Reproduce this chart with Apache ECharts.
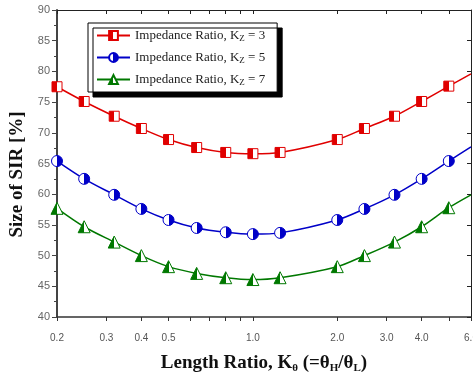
<!DOCTYPE html>
<html>
<head>
<meta charset="utf-8">
<script src="https://cdn.jsdelivr.net/npm/echarts@6/dist/echarts.min.js"></script>
<style>
  html, body { margin: 0; padding: 0; background: #fff; }
  #chart { width: 473px; height: 376px; }
</style>
</head>
<body>
<div id="chart"></div>
<script>
// length ratio K_theta (log axis)
const kTheta = [0.2, 0.25, 0.32, 0.4, 0.5, 0.63, 0.8, 1.0, 1.25, 2.0, 2.5, 3.2, 4.0, 5.0, 6.0];
const sirKz3 = [77.5, 75.1, 72.7, 70.7, 68.9, 67.6, 66.8, 66.6, 66.8, 68.9, 70.7, 72.7, 75.1, 77.6, 79.6];
const sirKz5 = [65.4, 62.5, 59.9, 57.6, 55.8, 54.5, 53.8, 53.5, 53.7, 55.8, 57.6, 59.9, 62.5, 65.4, 67.7];
const sirKz7 = [57.7, 54.7, 52.2, 50.0, 48.2, 47.1, 46.4, 46.1, 46.4, 48.2, 50.0, 52.2, 54.7, 57.8, 59.9];
const kzValues = [3, 5, 7];

const xTickValues = [0.2, 0.3, 0.4, 0.5, 0.6, 0.7, 0.8, 0.9, 1.0, 2.0, 3.0, 4.0, 5.0, 6.0];
const xLabelValues = [0.2, 0.3, 0.4, 0.5, 1.0, 2.0, 3.0, 4.0, 6.0];

const chart = echarts.init(document.getElementById("chart"), null, { renderer: "canvas" });

function halfFill(color, leftFilled) {
  const stops = leftFilled
    ? [{ offset: 0, color }, { offset: 0.5, color }, { offset: 0.5, color: "#fff" }, { offset: 1, color: "#fff" }]
    : [{ offset: 0, color: "#fff" }, { offset: 0.5, color: "#fff" }, { offset: 0.5, color }, { offset: 1, color }];
  return new echarts.graphic.LinearGradient(0, 0, 1, 0, stops);
}

function toData(ys) {
  return kTheta.map((k, i) => {
    const item = { value: [k, ys[i]] };
    if (i === kTheta.length - 1) item.symbol = "none";
    return item;
  });
}

const styles = [
  { color: "#e00000", symbol: "rect", size: 10, left: true },
  { color: "#0000c8", symbol: "circle", size: 11, left: false },
  { color: "#007800", symbol: "triangle", size: 12, left: true },
];
const values = [sirKz3, sirKz5, sirKz7];

const series = kzValues.map((kz, i) => ({
  name: "Kz" + kz,
  type: "line",
  smooth: 0.3,
  data: toData(values[i]),
  symbol: styles[i].symbol,
  symbolSize: styles[i].size,
  lineStyle: { color: styles[i].color, width: 1.5 },
  itemStyle: { color: halfFill(styles[i].color, styles[i].left), borderColor: styles[i].color, borderWidth: 1 },
  emphasis: { disabled: true },
  z: 3,
}));

const serif = "'Liberation Serif', 'Times New Roman', serif";
const sans = "'Liberation Sans', Arial, sans-serif";

const option = {
  animation: false,
  backgroundColor: "#fff",
  grid: { left: 57, right: 2, top: 10, bottom: 59, show: false, outerBoundsMode: "none", containLabel: false },
  legend: {
    orient: "vertical",
    left: 88,
    top: 23,
    padding: [6, 12, 5, 8],
    itemGap: 8,
    itemWidth: 33,
    itemHeight: 11,
    backgroundColor: "#fff",
    borderColor: "#000",
    borderWidth: 1,
    shadowColor: "#000",
    shadowBlur: 0,
    shadowOffsetX: 5,
    shadowOffsetY: 5,
    formatter: (name) => {
      const kz = name.replace("Kz", "");
      return "{t|Impedance Ratio, K}{s|Z}{t| = " + kz + "}";
    },
    textStyle: {
      rich: {
        t: { fontFamily: serif, fontSize: 13, color: "#222" },
        s: { fontFamily: serif, fontSize: 9, color: "#222", verticalAlign: "bottom", padding: [6, 0, 0, 0] },
      },
    },
  },
  xAxis: [
    {
      type: "log",
      min: 0.2,
      max: 6.0,
      logBase: 10,
      name: "{b|Length Ratio, K}{s|θ}{b| (=θ}{s|H}{b|/θ}{s|L}{b|)}",
      nameLocation: "middle",
      nameGap: 35,
      nameTextStyle: {
        rich: {
          b: { fontFamily: serif, fontSize: 19, fontWeight: "bold", color: "#111" },
          s: { fontFamily: serif, fontSize: 11, fontWeight: "bold", color: "#111", padding: [11, 0, 0, 0] },
        },
      },
      axisLine: { show: true, onZero: false, lineStyle: { color: "#333", width: 1.5 } },
      axisTick: { show: true, customValues: xTickValues, length: 4, inside: false, lineStyle: { color: "#333" } },
      axisLabel: {
        customValues: xLabelValues,
        margin: 16,
        fontFamily: sans,
        fontSize: 10,
        color: "#555",
        formatter: (v) => Number(v).toFixed(1),
      },
      splitLine: { show: false },
      minorTick: { show: false },
    },
    {
      type: "log",
      min: 0.2,
      max: 6.0,
      position: "top",
      axisLine: { show: true, onZero: false, lineStyle: { color: "#222", width: 1 } },
      axisTick: { show: true, customValues: xTickValues, length: 4, inside: true, lineStyle: { color: "#222" } },
      axisLabel: { show: false },
      splitLine: { show: false },
    },
  ],
  yAxis: [
    {
      type: "value",
      min: 40,
      max: 90,
      interval: 5,
      name: "Size of SIR [%]",
      nameLocation: "middle",
      nameGap: 30,
      nameTextStyle: { fontFamily: serif, fontSize: 19, fontWeight: "bold", color: "#111", padding: [0, 22, 0, 0] },
      axisLine: { show: true, lineStyle: { color: "#444", width: 2 } },
      axisTick: { show: true, length: 5, lineStyle: { color: "#444" } },
      minorTick: { show: true, splitNumber: 2, length: 3, lineStyle: { color: "#444" } },
      axisLabel: { margin: 7, fontFamily: sans, fontSize: 11, color: "#666" },
      splitLine: { show: false },
    },
    {
      type: "value",
      min: 40,
      max: 90,
      interval: 5,
      position: "right",
      axisLine: { show: true, lineStyle: { color: "#222", width: 1 } },
      axisTick: { show: true, inside: true, length: 4, lineStyle: { color: "#222" } },
      minorTick: { show: false },
      axisLabel: { show: false },
      splitLine: { show: false },
    },
  ],
  series,
};

chart.setOption(option);
</script>
</body>
</html>
